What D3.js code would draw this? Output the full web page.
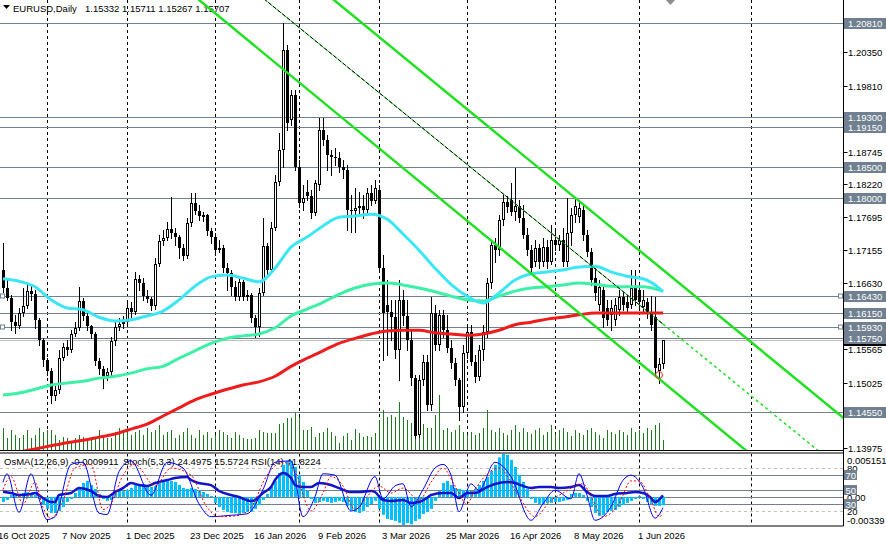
<!DOCTYPE html>
<html>
<head>
<meta charset="utf-8">
<script src="https://cdn.jsdelivr.net/npm/d3@7"></script>
<style>
  html, body { margin: 0; padding: 0; background: #fff; }
  svg text { font-family: "Liberation Sans", Arial, sans-serif; font-size: 9.5px; }
</style>
</head>
<body>
<div id="chart"></div>
<script>
// ---------------- data ----------------
const barOpen = [
  1.1684,1.1655,1.1639,1.1600,1.1594,1.1615,1.1626,1.1650,1.1645,1.1603,
  1.1571,1.1539,1.1521,1.1481,1.1491,1.1542,1.1560,1.1555,1.1581,1.1591,
  1.1634,1.1610,1.1594,1.1581,1.1538,1.1525,1.1513,1.1520,1.1570,1.1592,
  1.1597,1.1600,1.1623,1.1616,1.1670,1.1663,1.1642,1.1637,1.1626,1.1694,
  1.1731,1.1736,1.1750,1.1744,1.1737,1.1719,1.1707,1.1760,1.1792,1.1779,
  1.1771,1.1773,1.1747,1.1737,1.1716,1.1719,1.1687,1.1679,1.1657,1.1641,
  1.1665,1.1641,1.1644,1.1607,1.1592,1.1647,1.1723,1.1684,1.1752,1.1826,
  1.1877,1.2038,1.1926,1.1966,1.1850,1.1792,1.1810,1.1803,1.1776,1.1821,
  1.1909,1.1893,1.1869,1.1866,1.1864,1.1850,1.1845,1.1781,1.1779,1.1784,
  1.1787,1.1781,1.1808,1.1795,1.1813,1.1687,1.1628,1.1616,1.1608,1.1555,
  1.1636,1.1610,1.1571,1.1510,1.1418,1.1507,1.1536,1.1467,1.1615,1.1563,
  1.1612,1.1587,1.1558,1.1534,1.1507,1.1463,1.1550,1.1584,1.1536,1.1512,
  1.1555,1.1584,1.1663,1.1724,1.1716,1.1765,1.1794,1.1797,1.1777,1.1787,
  1.1768,1.1740,1.1716,1.1697,1.1719,1.1697,1.1721,1.1697,1.1732,1.1724,
  1.1732,1.1697,1.1744,1.1773,1.1769,1.1781,1.1740,1.1713,1.1671,1.1628,
  1.1652,1.1623,1.1612,1.1603,1.1620,1.1641,1.1632,1.1628,1.1657,1.1652,
  1.1625,1.1632,1.1616,1.1608,1.1521,1.15332
];
const barHigh = [
  1.1728,1.1668,1.1644,1.1612,1.1623,1.1655,1.1660,1.1660,1.1652,1.1607,
  1.1575,1.1542,1.1526,1.1497,1.1555,1.1566,1.1571,1.1587,1.1600,1.1657,
  1.1639,1.1616,1.1596,1.1584,1.1542,1.1529,1.1526,1.1576,1.1600,1.1607,
  1.1610,1.1636,1.1632,1.1681,1.1676,1.1671,1.1652,1.1641,1.1703,1.1740,
  1.1748,1.1761,1.1802,1.1752,1.1740,1.1726,1.1768,1.1808,1.1808,1.1789,
  1.1777,1.1774,1.1752,1.1744,1.1732,1.1724,1.1695,1.1684,1.1666,1.1671,
  1.1668,1.1652,1.1647,1.1612,1.1655,1.1768,1.1728,1.1761,1.1837,1.1905,
  1.2082,1.2046,1.1974,1.1974,1.1861,1.1821,1.1829,1.1813,1.1829,1.1929,
  1.1929,1.1901,1.1877,1.1880,1.1874,1.1861,1.1853,1.1805,1.1816,1.1810,
  1.1805,1.1816,1.1821,1.1829,1.1821,1.1708,1.1668,1.1636,1.1636,1.1668,
  1.1652,1.1636,1.1587,1.1515,1.1515,1.1547,1.1547,1.1641,1.1628,1.1620,
  1.1620,1.1612,1.1571,1.1542,1.1510,1.1563,1.1596,1.1596,1.1547,1.1563,
  1.1596,1.1671,1.1732,1.1736,1.1773,1.1805,1.1803,1.1824,1.1848,1.1797,
  1.1789,1.1752,1.1724,1.1732,1.1726,1.1736,1.1732,1.1756,1.1748,1.1740,
  1.1752,1.1800,1.1784,1.1802,1.1797,1.1789,1.1748,1.1719,1.1687,1.1668,
  1.1660,1.1636,1.1636,1.1639,1.1652,1.1649,1.1644,1.1684,1.1684,1.1660,
  1.1652,1.1639,1.1642,1.1641,1.1542,1.15711
];
const barLow = [
  1.1649,1.1636,1.1587,1.1583,1.1591,1.1610,1.1623,1.1636,1.1591,1.1563,
  1.1529,1.1515,1.1470,1.1475,1.1486,1.1539,1.1547,1.1552,1.1578,1.1587,
  1.1604,1.1587,1.1575,1.1531,1.1517,1.1494,1.1507,1.1515,1.1563,1.1587,
  1.1591,1.1596,1.1607,1.1613,1.1652,1.1636,1.1632,1.1620,1.1621,1.1690,
  1.1724,1.1732,1.1736,1.1724,1.1703,1.1700,1.1703,1.1755,1.1774,1.1765,
  1.1763,1.1740,1.1728,1.1708,1.1713,1.1681,1.1652,1.1644,1.1636,1.1636,
  1.1636,1.1636,1.1600,1.1576,1.1578,1.1644,1.1676,1.1681,1.1748,1.1821,
  1.1850,1.1909,1.1917,1.1845,1.1785,1.1781,1.1797,1.1768,1.1773,1.1813,
  1.1885,1.1845,1.1837,1.1853,1.1842,1.1832,1.1748,1.1745,1.1745,1.1773,
  1.1768,1.1777,1.1789,1.1792,1.1684,1.1539,1.1547,1.1571,1.1542,1.1507,
  1.1596,1.1555,1.1499,1.1414,1.1415,1.1499,1.1459,1.1459,1.1555,1.1555,
  1.1576,1.1552,1.1526,1.1499,1.1443,1.1455,1.1542,1.1531,1.1504,1.1507,
  1.1539,1.1576,1.1655,1.1697,1.1708,1.1756,1.1777,1.1773,1.1765,1.1761,
  1.1736,1.1708,1.1681,1.1690,1.1687,1.1690,1.1687,1.1694,1.1716,1.1716,
  1.1690,1.1690,1.1724,1.1761,1.1761,1.1732,1.1707,1.1660,1.1636,1.1620,
  1.1592,1.1596,1.1587,1.1596,1.1612,1.1620,1.1616,1.1623,1.1628,1.1620,
  1.1616,1.1607,1.1587,1.1515,1.1502,1.15267
];
const barClose = [
  1.1655,1.1639,1.1600,1.1594,1.1615,1.1626,1.1650,1.1645,1.1603,1.1571,
  1.1539,1.1521,1.1481,1.1491,1.1542,1.1560,1.1555,1.1581,1.1591,1.1634,
  1.1610,1.1594,1.1581,1.1538,1.1525,1.1513,1.1520,1.1570,1.1592,1.1597,
  1.1600,1.1623,1.1616,1.1670,1.1663,1.1642,1.1637,1.1626,1.1694,1.1731,
  1.1736,1.1750,1.1744,1.1737,1.1719,1.1707,1.1760,1.1792,1.1779,1.1771,
  1.1773,1.1747,1.1737,1.1716,1.1719,1.1687,1.1679,1.1657,1.1641,1.1665,
  1.1641,1.1644,1.1607,1.1592,1.1647,1.1723,1.1684,1.1752,1.1826,1.1877,
  1.2038,1.1921,1.1966,1.1850,1.1792,1.1800,1.1803,1.1776,1.1824,1.1909,
  1.1893,1.1869,1.1866,1.1864,1.1850,1.1845,1.1781,1.1779,1.1784,1.1787,
  1.1781,1.1808,1.1795,1.1816,1.1687,1.1615,1.1616,1.1608,1.1555,1.1636,
  1.1610,1.1571,1.1510,1.1417,1.1507,1.1536,1.1467,1.1615,1.1563,1.1612,
  1.1587,1.1558,1.1534,1.1507,1.1463,1.1550,1.1584,1.1536,1.1512,1.1555,
  1.1584,1.1663,1.1724,1.1716,1.1765,1.1794,1.1785,1.1777,1.1787,1.1768,
  1.1740,1.1716,1.1687,1.1719,1.1697,1.1721,1.1697,1.1732,1.1724,1.1732,
  1.1697,1.1744,1.1773,1.1787,1.1784,1.1740,1.1713,1.1668,1.1647,1.1657,
  1.1607,1.1603,1.1623,1.1628,1.1641,1.1628,1.1623,1.1655,1.1636,1.1632,
  1.1636,1.1616,1.1596,1.1526,1.1533,1.15707
];
const tickVolume = [
  22,12,20,15,12,15,20,12,15,22, 18,20,20,15,10,13,12,8,12,15,
  13,12,10,12,20,15,12,12,18,22, 20,22,15,18,20,15,22,18,20,25,
  15,18,20,12,15,18,22,15,12,20, 15,18,12,15,20,18,15,12,18,15,
  12,11,11,12,20,18,17,17,17,26, 27,32,32,37,33,20,20,23,13,17,
  18,22,18,14,7,14,17,10,21,17, 13,14,13,17,30,40,33,35,33,48,
  33,30,27,25,28,26,22,22,35,55, 20,22,18,20,25,18,15,18,15,17,
  22,40,20,18,22,17,15,20,25,18, 22,18,16,20,22,15,18,25,16,20,
  22,18,14,20,17,15,20,22,18,15, 12,20,18,16,20,18,15,22,18,20,
  17,22,20,25,27,10
];

// moving averages, sampled every 4 bars
const maBars = [0,4,8,12,16,20,24,28,32,36,40,44,48,52,56,60,64,68,72,76,80,84,88,92,96,100,
  104,108,112,116,120,124,128,132,136,140,144,148,152,156,160,164,165];
const maFast = [1.1670,1.1666,1.1657,1.1636,1.1623,1.1620,1.1608,1.1602,1.1604,1.1610,1.1618,1.1636,
  1.1658,1.1673,1.1676,1.1671,1.1665,1.1687,1.1721,1.1737,1.1755,1.1769,1.1771,1.1774,1.1766,1.1742,
  1.1716,1.1687,1.1661,1.1642,1.1631,1.1647,1.1668,1.1678,1.1681,1.1684,1.1689,1.1690,1.1681,1.1674,
  1.1670,1.1655,1.1649];
const maMid = [1.1483,1.1486,1.1492,1.1499,1.1502,1.1505,1.1510,1.1513,1.1518,1.1525,1.1529,1.1542,
  1.1554,1.1566,1.1574,1.1578,1.1581,1.1591,1.1610,1.1621,1.1632,1.1645,1.1655,1.1661,1.1663,1.1660,
  1.1655,1.1649,1.1642,1.1636,1.1634,1.1642,1.1650,1.1655,1.1657,1.1660,1.1663,1.1661,1.1658,1.1657,
  1.1657,1.1652,1.1650];
const maSlow = [1.1386,1.1391,1.1396,1.1401,1.1406,1.1410,1.1415,1.1420,1.1428,1.1436,1.1449,1.1462,
  1.1475,1.1484,1.1492,1.1499,1.1504,1.1513,1.1529,1.1542,1.1554,1.1566,1.1574,1.1581,1.1586,1.1587,
  1.1587,1.1583,1.1581,1.1579,1.1581,1.1587,1.1596,1.1600,1.1605,1.1608,1.1612,1.1615,1.1615,1.1615,
  1.1615,1.1615,1.1615];

// trend channel objects: [bar, price] anchors
const channelUpper = [[70, 1.2186], [212, 1.1436]];
const channelLower = [[45, 1.2140], [190, 1.1371]];
const midLine = [[64, 1.2127], [165, 1.1597]];
const midLineExt = [[165, 1.1597], [205, 1.1387]];
const lowMarker = [164, 1.1515];

const levelPrices = [1.20810, 1.19300, 1.19150, 1.18500, 1.18000, 1.16430, 1.16150, 1.15930, 1.15750, 1.14550];
const anchoredLevels = [1.16430, 1.15930];
const bidPrice = 1.15707;
const priceTicks = [1.20350, 1.19810, 1.18745, 1.18220, 1.17695, 1.17155, 1.16630, 1.15565, 1.15025, 1.13975];

const dateBars = [-1, 15, 31, 47, 63, 79, 95, 111, 127, 143, 159];
const dateLabels = ["16 Oct 2025", "7 Nov 2025", "1 Dec 2025", "23 Dec 2025", "16 Jan 2026", "9 Feb 2026",
  "3 Mar 2026", "25 Mar 2026", "16 Apr 2026", "8 May 2026", "1 Jun 2026"];
const monthBars = [11, 31, 53, 74, 94, 116, 138, 159, 187];

// sub window: OsMA, Stochastic, RSI
const osma = [
  -0.00059,-0.00036,0.00024,0.00036,0.00036,0.00047,0.00059,0.00047,0.00024,-0.00024,
  -0.00095,-0.00142,-0.00190,-0.00190,-0.00166,-0.00119,-0.00059,-0.00024,0.00047,0.00119,
  0.00166,0.00190,0.00142,0.00095,0.00036,-0.00024,-0.00047,-0.00036,0.00047,0.00071,
  0.00071,0.00083,0.00107,0.00142,0.00154,0.00154,0.00142,0.00119,0.00130,0.00166,
  0.00190,0.00202,0.00190,0.00178,0.00142,0.00107,0.00095,0.00107,0.00095,0.00083,
  0.00059,0.00036,0.00012,-0.00071,-0.00119,-0.00154,-0.00178,-0.00190,-0.00190,-0.00202,
  -0.00190,-0.00178,-0.00178,-0.00142,-0.00095,-0.00036,0.00036,0.00119,0.00190,0.00285,
  0.00380,0.00427,0.00427,0.00356,0.00261,0.00178,0.00071,-0.00024,-0.00071,-0.00059,
  -0.00047,-0.00059,-0.00071,-0.00059,-0.00047,-0.00059,-0.00107,-0.00154,-0.00178,-0.00190,
  -0.00166,-0.00119,-0.00083,-0.00047,-0.00142,-0.00213,-0.00261,-0.00273,-0.00285,-0.00308,
  -0.00339,-0.00310,-0.00325,-0.00285,-0.00261,-0.00202,-0.00178,-0.00142,-0.00047,0.00071,
  0.00166,0.00190,0.00142,0.00107,0.00095,0.00083,0.00083,0.00071,0.00095,0.00142,
  0.00190,0.00237,0.00308,0.00380,0.00470,0.00515,0.00500,0.00440,0.00356,0.00261,
  0.00178,0.00095,-0.00024,-0.00071,-0.00083,-0.00083,-0.00071,-0.00071,-0.00059,-0.00059,
  -0.00047,-0.00036,0.00036,0.00047,0.00047,0.00024,-0.00047,-0.00119,-0.00190,-0.00225,
  -0.00213,-0.00178,-0.00166,-0.00154,-0.00119,-0.00095,-0.00071,-0.00047,-0.00024,0.00012,
  -0.00024,-0.00059,-0.00083,-0.00107,-0.00107,-0.00099
];
const stochBars = [0,1,4,7,9,11,13,17,20,24,26,29,32,37,41,45,49,52,57,61,65,68,72,75,78,80,83,87,89,93,
  95,98,100,102,105,108,110,112,114,117,119,123,127,132,135,138,142,144,146,148,152,155,157,160,163,165];
const stochMain = [60,72,18,72,37,8,12,85,88,17,15,75,90,42,88,80,30,12,14,16,50,88,90,12,40,72,70,20,25,68,
  37,55,58,26,50,80,85,70,19,58,49,88,68,7,30,49,37,72,42,7,26,63,70,53,10,24.5];
const signalBars = [0,2,5,8,10,12,15,18,22,25,27,30,33,38,42,47,51,54,59,62,66,70,73,77,80,82,85,88,91,94,
  97,100,104,107,110,113,116,118,124,129,133,137,140,145,147,150,154,157,159,162,164,165];
const stochSignal = [50,68,30,60,25,10,35,80,85,22,30,70,85,55,80,70,25,12,14,25,70,88,75,20,45,68,55,22,40,55,
  45,52,35,60,80,55,30,50,80,40,12,35,45,58,40,12,30,62,62,35,12,15.6];
const rsiBars = [0,2,4,7,8,10,12,13,14,17,19,22,24,26,28,30,32,34,36,38,41,43,46,47,49,52,54,57,59,62,
  63,65,67,68,70,72,73,75,77,79,82,84,87,89,92,93,95,97,100,102,104,106,107,110,112,114,116,118,121,123,
  126,128,130,132,134,137,139,142,144,146,148,151,153,156,158,160,162,163,165];
const rsiValues = [46.9,45.1,42.3,43.7,45.1,38.1,32.5,32.5,42.3,45.1,52.0,47.9,40.9,39.5,46.5,52.0,59.0,56.2,54.8,59.0,
  63.2,66.0,67.4,63.2,59.0,56.2,47.9,42.3,39.5,33.9,35.3,45.1,53.4,63.2,73.0,66.0,56.2,53.4,53.4,59.0,
  56.2,52.0,46.5,46.5,47.9,46.5,35.3,33.9,35.3,31.1,32.5,38.1,42.3,45.1,45.1,38.1,45.1,45.1,53.4,57.6,
  60.4,59.0,54.8,52.0,53.4,53.4,52.0,53.4,56.2,46.5,40.9,40.9,43.7,45.1,46.5,45.1,38.1,32.5,41.8];
const oscLevels = [70, 50, 30];
const oscDashed = [80, 20];

// ---------------- layout ----------------
const W = 886, H = 546;
const plotRight = 843.5, mainBottom = 450, subTop = 453.5, subBottom = 525.5;
const levelColor = "#708090";

const svg = d3.select("#chart").append("svg")
  .attr("width", W).attr("height", H);

const x = d3.scaleLinear().domain([0, 165]).range([3, 663]);
const y = d3.scaleLinear().domain([1.13943, 1.21187]).range([mainBottom, 0]);
const yOsc = d3.scaleLinear().domain([0, 100]).range([525.3, 453.7]);
const yOsma = d3.scaleLinear().domain([-0.00339, 0.005151]).range([subBottom, subTop]);
const volH = d3.scaleLinear().domain([0, 60]).range([0, 60]);
const cx = i => Math.round(x(i)) + 0.5;
const cy = p => Math.round(y(p)) + 0.5;

const defs = svg.append("defs");
defs.append("clipPath").attr("id", "clipMain").append("rect")
  .attr("x", 0).attr("y", 0).attr("width", plotRight).attr("height", mainBottom);
defs.append("clipPath").attr("id", "clipSub").append("rect")
  .attr("x", 0).attr("y", subTop + 0.5).attr("width", plotRight).attr("height", subBottom - subTop - 1);

// header
svg.append("path").attr("d", "M3,5 L10,5 L6.5,9 Z").attr("fill", "#000");
svg.append("text").attr("x", 13).attr("y", 11.5).text("EURUSD,Daily");
svg.append("text").attr("x", 85).attr("y", 11.5).text("1.15332 1.15711 1.15267 1.15707");

const main = svg.append("g").attr("clip-path", "url(#clipMain)");

// month grid
main.selectAll(".grid").data(monthBars).enter().append("line")
  .attr("x1", d => cx(d)).attr("x2", d => cx(d))
  .attr("y1", 0).attr("y2", mainBottom)
  .attr("stroke", "#000").attr("stroke-dasharray", "3,3");

// horizontal levels
main.selectAll(".level").data(levelPrices).enter().append("line")
  .attr("x1", 0).attr("x2", plotRight)
  .attr("y1", d => cy(d)).attr("y2", d => cy(d))
  .attr("stroke", levelColor);
main.append("line")
  .attr("x1", 0).attr("x2", plotRight)
  .attr("y1", cy(bidPrice)).attr("y2", cy(bidPrice))
  .attr("stroke", "#c0c0c0");

// volumes
const bars = barClose.map((c, i) => ({ i, o: barOpen[i], h: barHigh[i], l: barLow[i], c }));
main.selectAll(".vol").data(bars).enter().append("line")
  .attr("x1", d => cx(d.i)).attr("x2", d => cx(d.i))
  .attr("y1", mainBottom).attr("y2", d => mainBottom - volH(tickVolume[d.i]))
  .attr("stroke", "#1f7a1f");

// candles
main.selectAll(".wick").data(bars).enter().append("line")
  .attr("x1", d => cx(d.i)).attr("x2", d => cx(d.i))
  .attr("y1", d => Math.round(y(d.h))).attr("y2", d => Math.round(y(d.l)) + 1)
  .attr("stroke", "#000");
main.selectAll(".body").data(bars).enter().append("rect")
  .attr("x", d => d.c >= d.o ? cx(d.i) - 1 : cx(d.i) - 1.5)
  .attr("y", d => d.c >= d.o ? Math.round(y(d.c)) + 0.5 : Math.round(y(d.o)))
  .attr("width", d => d.c >= d.o ? 2 : 3)
  .attr("height", d => {
    const t = Math.round(y(Math.max(d.o, d.c))), b = Math.round(y(Math.min(d.o, d.c)));
    return d.c >= d.o ? Math.max(1, b - t - 1) : Math.max(1, b - t);
  })
  .attr("fill", d => d.c >= d.o ? "#fff" : "#000")
  .attr("stroke", d => d.c >= d.o ? "#000" : "none");

// moving averages
const maLine = d3.line()
  .x((d, k) => x(maBars[k]))
  .y(d => y(d))
  .curve(d3.curveMonotoneX);
[[maSlow, "#ee1c1c"], [maMid, "#3cf0a5"], [maFast, "#3ce6f5"]].forEach(([s, col]) => {
  main.append("path").datum(s)
    .attr("d", maLine)
    .attr("fill", "none").attr("stroke", col).attr("stroke-width", 3)
    .attr("stroke-linejoin", "round");
});

// trend channel
const tl = d3.line().x(d => x(d[0])).y(d => y(d[1]));
[channelUpper, channelLower].forEach(pts => {
  main.append("path").datum(pts).attr("d", tl)
    .attr("fill", "none").attr("stroke", "#22e022").attr("stroke-width", 2.5);
});
main.append("path").datum(midLine).attr("d", tl)
  .attr("fill", "none").attr("stroke", "#22e022").attr("stroke-width", 1);
main.append("path").datum(midLine).attr("d", tl)
  .attr("fill", "none").attr("stroke", "#000").attr("stroke-width", 1).attr("stroke-dasharray", "4,2");
main.append("path").datum(midLineExt).attr("d", tl)
  .attr("fill", "none").attr("stroke", "#22e022").attr("stroke-width", 1.5).attr("stroke-dasharray", "3,3");

main.append("circle")
  .attr("cx", x(lowMarker[0])).attr("cy", y(lowMarker[1])).attr("r", 3.5)
  .attr("fill", "none").attr("stroke", "#ff3030");

// anchors of the two horizontal objects
anchoredLevels.forEach(p => {
  [0, plotRight - 5.5].forEach(ax => {
    svg.append("rect").attr("x", ax + 0.5).attr("y", Math.round(y(p)) - 2)
      .attr("width", 4).attr("height", 4)
      .attr("fill", "#fff").attr("stroke", levelColor);
  });
});

// chart shift marker
svg.append("path").attr("d", "M666,0 L675,0 L670.5,5 Z").attr("fill", "#8c8c8c");

// ---------------- sub window ----------------
svg.append("text").attr("x", 4).attr("y", 465).text("OsMA(12,26,9) -0.0009911");
svg.append("text").attr("x", 123).attr("y", 465).text("Stoch(5,3,3) 24.4975 15.5724");
svg.append("text").attr("x", 251).attr("y", 465).text("RSI(14) 41.8224");

const sub = svg.append("g").attr("clip-path", "url(#clipSub)");
sub.selectAll(".vgrid").data(monthBars).enter().append("line")
  .attr("x1", d => cx(d)).attr("x2", d => cx(d))
  .attr("y1", subTop).attr("y2", subBottom)
  .attr("stroke", "#000").attr("stroke-dasharray", "3,3");
sub.selectAll(".olev").data(oscLevels).enter().append("line")
  .attr("x1", 0).attr("x2", plotRight)
  .attr("y1", d => Math.round(yOsc(d)) + 0.5).attr("y2", d => Math.round(yOsc(d)) + 0.5)
  .attr("stroke", levelColor);
sub.selectAll(".odash").data(oscDashed).enter().append("line")
  .attr("x1", 0).attr("x2", plotRight)
  .attr("y1", d => Math.round(yOsc(d)) + 0.5).attr("y2", d => Math.round(yOsc(d)) + 0.5)
  .attr("stroke", "#c0c0c0").attr("stroke-dasharray", "3,3");
sub.append("line")
  .attr("x1", 0).attr("x2", plotRight)
  .attr("y1", Math.round(yOsma(0)) + 0.5).attr("y2", Math.round(yOsma(0)) + 0.5)
  .attr("stroke", levelColor);

sub.selectAll(".osma").data(osma).enter().append("rect")
  .attr("x", (d, i) => cx(i) - 1.5)
  .attr("width", 3)
  .attr("y", d => Math.min(yOsma(0), yOsma(d)))
  .attr("height", d => Math.abs(yOsma(d) - yOsma(0)))
  .attr("fill", "#00bfff");

const oscLine = (bi) => d3.line()
  .x((d, k) => x(bi[k]))
  .y(d => yOsc(d))
  .curve(d3.curveMonotoneX);
sub.append("path").datum(rsiValues).attr("d", oscLine(rsiBars))
  .attr("fill", "none").attr("stroke", "#1414c8").attr("stroke-width", 2.5);
sub.append("path").datum(stochMain).attr("d", oscLine(stochBars))
  .attr("fill", "none").attr("stroke", "#0000ff").attr("stroke-width", 1);
sub.append("path").datum(stochSignal).attr("d", oscLine(signalBars))
  .attr("fill", "none").attr("stroke", "#ff0000").attr("stroke-width", 1).attr("stroke-dasharray", "2,2");

// ---------------- frames ----------------
svg.append("line").attr("x1", plotRight).attr("x2", plotRight).attr("y1", 0).attr("y2", subBottom + 0.5)
  .attr("stroke", "#000");
svg.append("line").attr("x1", 0).attr("x2", plotRight).attr("y1", mainBottom + 0.5).attr("y2", mainBottom + 0.5)
  .attr("stroke", "#000");
svg.append("line").attr("x1", 0).attr("x2", plotRight).attr("y1", subTop - 0.5).attr("y2", subTop - 0.5)
  .attr("stroke", "#000");
svg.append("line").attr("x1", 0).attr("x2", plotRight).attr("y1", subBottom + 0.5).attr("y2", subBottom + 0.5)
  .attr("stroke", "#000");

// ---------------- price axis ----------------
const fmt = d3.format(".5f");
svg.append("rect").attr("x", 844).attr("y", Math.round(y(bidPrice)) - 5)
  .attr("width", 42).attr("height", 11).attr("fill", "#000");
svg.append("text").attr("x", 848).attr("y", Math.round(y(bidPrice)) + 4)
  .attr("fill", "#fff").text(fmt(bidPrice));

const axis = svg.append("g");
axis.selectAll("line").data(priceTicks).enter().append("line")
  .attr("x1", plotRight).attr("x2", plotRight + 4)
  .attr("y1", d => cy(d)).attr("y2", d => cy(d))
  .attr("stroke", "#000");
axis.selectAll("text").data(priceTicks).enter().append("text")
  .attr("x", 848).attr("y", d => Math.round(y(d)) + 4)
  .text(d => fmt(d));

const lvl = svg.append("g");
lvl.selectAll("rect").data(levelPrices).enter().append("rect")
  .attr("x", 844).attr("y", d => Math.round(y(d)) - 5)
  .attr("width", 42).attr("height", 11).attr("fill", levelColor);
lvl.selectAll("text").data(levelPrices).enter().append("text")
  .attr("x", 848).attr("y", d => Math.round(y(d)) + 4)
  .attr("fill", "#fff").text(d => fmt(d));

// sub window scale
svg.append("text").attr("x", 847).attr("y", 463.5).text("0.005151");
svg.append("text").attr("x", 847).attr("y", Math.round(yOsma(0)) + 4).text("0.00");
svg.append("text").attr("x", 847).attr("y", 523.5).text("-0.00339");
oscDashed.forEach(v => {
  svg.append("text").attr("x", 847).attr("y", Math.round(yOsc(v)) + 4).text(v);
});
oscLevels.forEach(v => {
  svg.append("rect").attr("x", 844).attr("y", Math.round(yOsc(v)) - 5)
    .attr("width", 13).attr("height", 10).attr("fill", levelColor);
  svg.append("text").attr("x", 845.5).attr("y", Math.round(yOsc(v)) + 3.5)
    .attr("fill", "#fff").text(v);
});

// ---------------- time axis ----------------
svg.selectAll(".date").data(dateBars).enter().append("text")
  .attr("x", d => x(d) - 1).attr("y", 539)
  .text((d, k) => dateLabels[k]);
</script>
</body>
</html>
